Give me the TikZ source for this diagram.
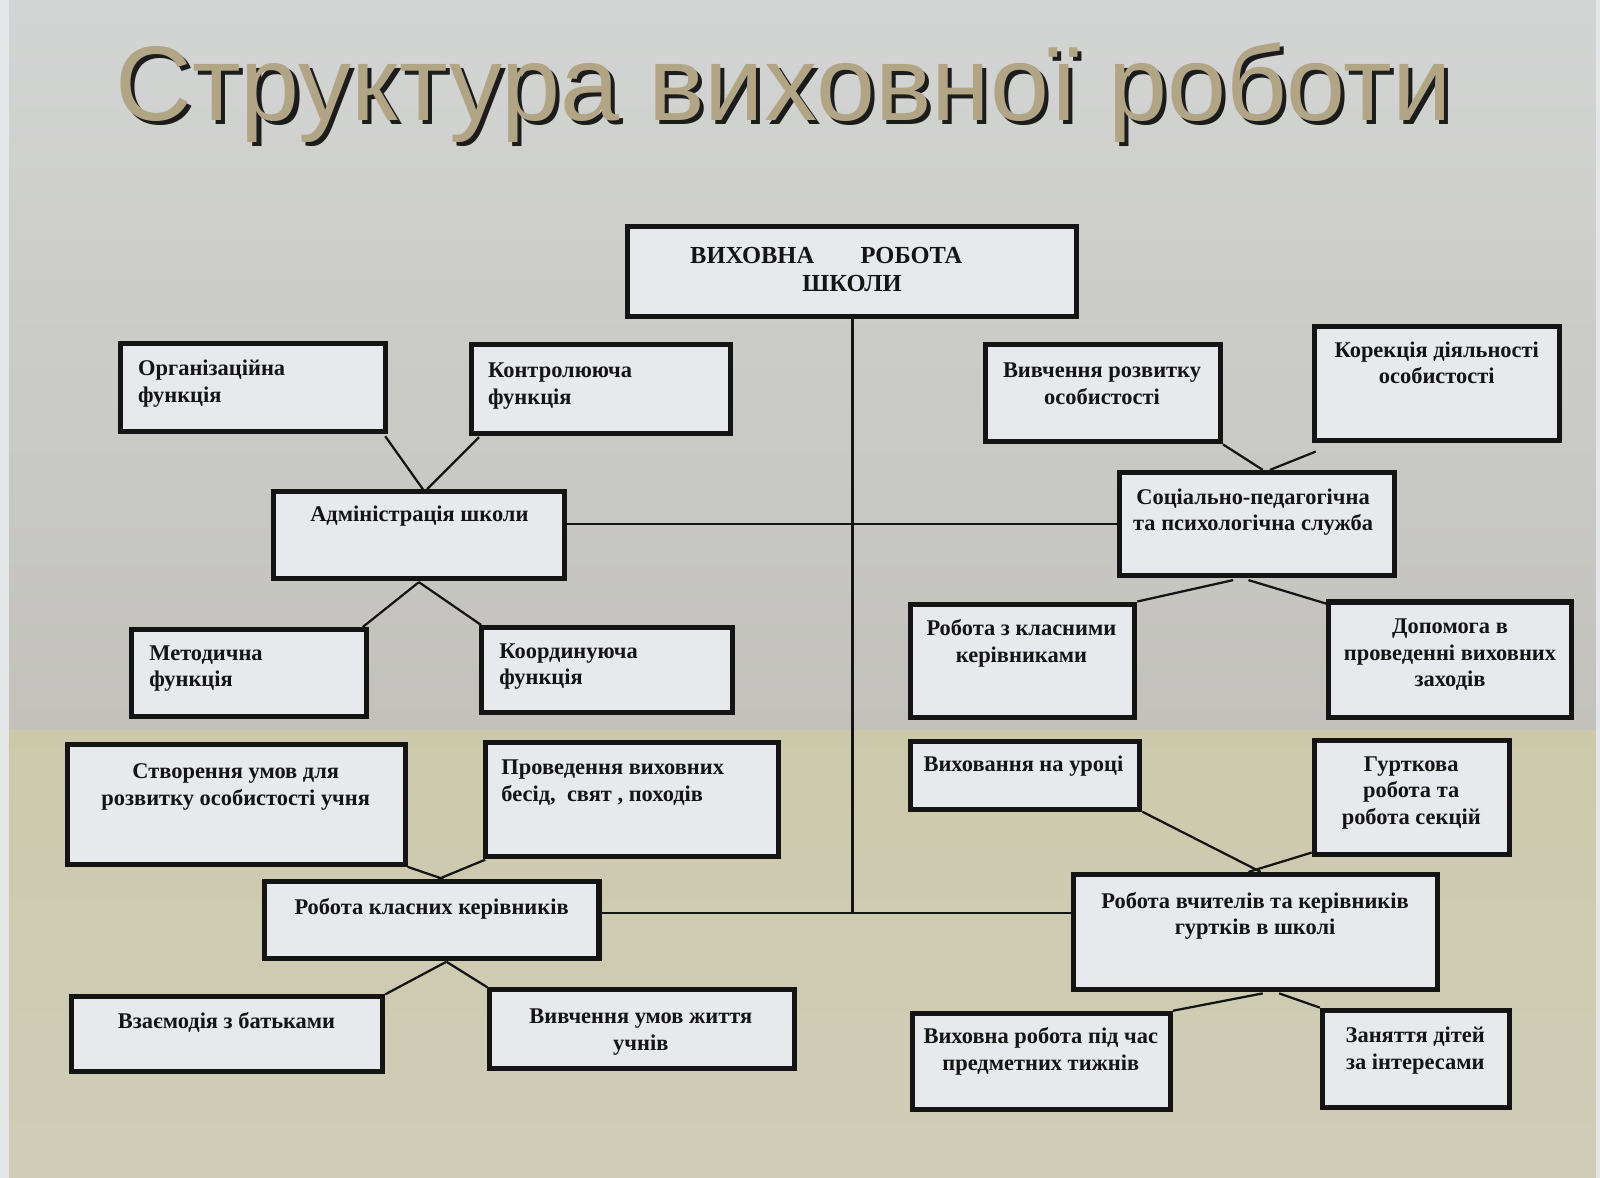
\documentclass[tikz,border=0pt]{standalone}
\usepackage{fontspec}
\setmainfont{Liberation Serif}
\newfontfamily\titlefont{Liberation Sans}
\usetikzlibrary{calc,fit}
\definecolor{bgtop}{HTML}{D3D5D4}
\definecolor{bgmid}{HTML}{C2C1BC}
\definecolor{olivetop}{HTML}{CCC9AB}
\definecolor{olivebot}{HTML}{CFCDB8}
\definecolor{stripcol}{HTML}{E3E5E7}
\definecolor{boxfill}{HTML}{E8E9ED}
\definecolor{boxline}{HTML}{141414}
\definecolor{titletan}{HTML}{B2A586}
\definecolor{titleshadow}{HTML}{1C1C1C}
\newcommand{\tc}[1]{\begin{tabular}[t]{@{}c@{}}#1\end{tabular}}
\newcommand{\tl}[1]{\begin{tabular}[t]{@{}l@{}}#1\end{tabular}}
\begin{document}
\begin{tikzpicture}[x=0.5pt,y=-0.5pt,
  bx/.style={draw=boxline, line width=2.5pt, fill=boxfill, inner sep=0pt},
  ln/.style={draw=boxline, line width=1.1pt},
  txt/.style={font=\fontsize{11}{13}\selectfont\bfseries, inner sep=0pt, text=boxline, anchor=base},
  txtl/.style={txt, anchor=base west},
  toptxt/.style={font=\fontsize{12}{14}\selectfont\bfseries, inner sep=0pt, text=boxline},
  ttl/.style={font=\titlefont\fontsize{52}{60}\selectfont, inner sep=0pt, anchor=base west}]
\useasboundingbox (0,0) rectangle (1568,1154);
% background
\fill[top color=bgtop, bottom color=bgmid] (0,0) rectangle (1568,716);
\fill[top color=olivetop, bottom color=olivebot] (0,716) rectangle (1568,1154);
\fill[stripcol] (0,0) rectangle (9,1154);
\fill[stripcol] (1564,0) rectangle (1568,1154);
% title
\node[ttl, text=titleshadow] (titleshadow) at (117,122) {Структура виховної роботи};
\node[ttl, text=titletan] (title) at (113,118) {Структура виховної роботи};
% boxes
\node[bx, fit={(615,222)(1055,310)}] (A) {};
\node[bx, fit={(118,337)(378,423)}] (B) {};
\node[bx, fit={(462,338)(716,425)}] (C) {};
\node[bx, fit={(268,482)(553,567)}] (D) {};
\node[bx, fit={(129,617)(359,702)}] (E) {};
\node[bx, fit={(472,615)(718,698)}] (F) {};
\node[bx, fit={(966,338)(1196,433)}] (G) {};
\node[bx, fit={(1288,320)(1528,432)}] (H) {};
\node[bx, fit={(1097,463)(1367,564)}] (I) {};
\node[bx, fit={(892,592)(1112,703)}] (J) {};
\node[bx, fit={(1302,590)(1540,703)}] (K) {};
\node[bx, fit={(66,730)(397,847)}] (L) {};
\node[bx, fit={(476,728)(763,839)}] (M) {};
\node[bx, fit={(259,864)(587,939)}] (N) {};
\node[bx, fit={(70,977)(375,1050)}] (O) {};
\node[bx, fit={(480,970)(779,1047)}] (P) {};
\node[bx, fit={(892,727)(1117,793)}] (Q) {};
\node[bx, fit={(1288,726)(1479,837)}] (R) {};
\node[bx, fit={(1052,857)(1409,970)}] (S) {};
\node[bx, fit={(894,993)(1147,1087)}] (T) {};
\node[bx, fit={(1296,990)(1479,1085)}] (U) {};
% texts
\node[toptxt, anchor=base west] (a1) at (676,258) {ВИХОВНА};
\node[toptxt, anchor=base west] (a2) at (843,258) {РОБОТА};
\node[toptxt, anchor=base] (a3) at (835,286) {ШКОЛИ};
\node[txtl] (tB) at (135,368) {\tl{Організаційна\\функція}};
\node[txtl] (tC) at (478,370) {\tl{Контролююча\\функція}};
\node[txt] (tD) at (411,511) {\tc{Адміністрація школи}};
\node[txtl] (tE) at (146,647) {\tl{Методична\\функція}};
\node[txtl] (tF) at (489,645) {\tl{Координуюча\\функція}};
\node[txt] (tG) at (1080,370) {\tc{Вивчення розвитку\\особистості}};
\node[txt] (tH) at (1408,350) {\tc{Корекція діяльності\\особистості}};
\node[txt] (tI) at (1228,494) {\tc{Соціально-педагогічна\\та психологічна служба}};
\node[txt] (tJ) at (1001,623) {\tc{Робота з класними\\керівниками}};
\node[txt] (tK) at (1421,621) {\tc{Допомога в\\проведенні виховних\\заходів}};
\node[txt] (tL) at (231,763) {\tc{Створення умов для\\розвитку особистості учня}};
\node[txtl] (tM) at (491,759) {\tl{Проведення виховних\\бесід,\ \ свят , походів}};
\node[txt] (tN) at (423,896) {\tc{Робота класних керівників}};
\node[txt] (tO) at (222,1008) {\tc{Взаємодія з батьками}};
\node[txt] (tP) at (628,1003) {\tc{Вивчення умов життя\\учнів}};
\node[txt] (tQ) at (1003,756) {\tc{Виховання на уроці}};
\node[txt] (tR) at (1383,756) {\tc{Гурткова\\робота та\\робота секцій}};
\node[txt] (tS) at (1230,890) {\tc{Робота вчителів та керівників\\гуртків в школі}};
\node[txt] (tT) at (1020,1023) {\tc{Виховна робота під час\\предметних тижнів}};
\node[txt] (tU) at (1387,1022) {\tc{Заняття дітей\\за інтересами}};
% connectors
\coordinate (t0) at ($(A.south west)+(223,0)$);
\coordinate (nl) at ($(N.north east)+(0,33)$);
\draw[ln] (t0) -- (t0 |- nl);
\draw[ln] ($(D.north east)+(0,34)$) -- ($(I.north west)+(0,53)$);
\draw[ln] (nl) -- ($(S.north west)+(0,40)$);
\draw[ln] ($(B.south west)+(262,2)$) -- ($(D.north west)+(149,0)$);
\draw[ln] ($(C.south west)+(10,1)$) -- ($(D.north west)+(153,0)$);
\draw[ln] ($(D.south west)+(145,1)$) -- ($(E.north west)+(229,0)$);
\draw[ln] ($(D.south west)+(145,1)$) -- ($(F.north west)+(2,0)$);
\draw[ln] (G.south east) -- ($(I.north west)+(143,0)$);
\draw[ln] ($(H.south west)+(4,8)$) -- ($(I.north west)+(150,0)$);
\draw[ln] ($(I.south west)+(114,2)$) -- (J.north east);
\draw[ln] ($(I.south west)+(129,2)$) -- ($(K.north west)+(0,4)$);
\draw[ln] (L.south east) -- ($(N.north west)+(178,0)$);
\draw[ln] ($(M.south west)+(2,1)$) -- ($(N.north west)+(173,0)$);
\draw[ln] ($(N.south west)+(181,1)$) -- (O.north east);
\draw[ln] ($(N.south west)+(181,1)$) -- (P.north west);
\draw[ln] (Q.south east) -- ($(S.north west)+(186,0)$);
\draw[ln] ($(R.south west)+(0,-4)$) -- ($(S.north west)+(174,0)$);
\draw[ln] ($(S.south west)+(188,1)$) -- (T.north east);
\draw[ln] ($(S.south west)+(204,1)$) -- (U.north west);
\end{tikzpicture}
\end{document}
